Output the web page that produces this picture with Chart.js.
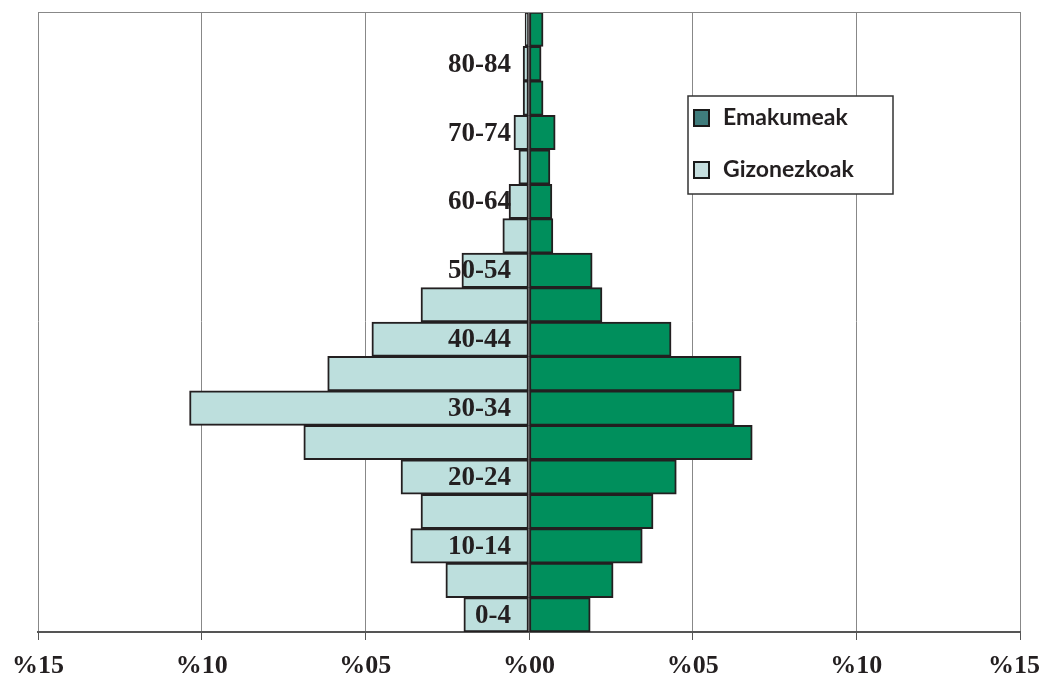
<!DOCTYPE html>
<html>
<head>
<meta charset="utf-8">
<script src="https://cdn.jsdelivr.net/npm/chart.js@4"></script>
<style>
html,body{margin:0;padding:0;background:#fff;}
</style>
</head>
<body>
<canvas id="myChart" width="1042" height="682"></canvas>
<script>
var ageGroups = ["0-4","5-9","10-14","15-19","20-24","25-29","30-34","35-39","40-44","45-49","50-54","55-59","60-64","65-69","70-74","75-79","80-84","85+"];
var emakumeak = [1.87,2.57,3.46,3.79,4.50,6.82,6.27,6.48,4.34,2.23,1.93,0.73,0.70,0.64,0.80,0.43,0.37,0.43];
var gizonezkoak = [-1.99,-2.54,-3.61,-3.30,-3.91,-6.88,-10.37,-6.15,-4.80,-3.30,-2.05,-0.80,-0.61,-0.31,-0.46,-0.18,-0.18,-0.12];
var xTicks = [-15,-10,-5,0,5,10,15];

var serifBold = "bold 27px 'Liberation Serif', serif";

function pctLabel(v) { return "%" + String(Math.abs(v)).padStart(2, "0"); }

// age labels drawn over the bars, every second group
var ageLabels = {
  id: "ageLabels",
  afterDatasetsDraw: function(chart) {
    var ctx = chart.ctx, y = chart.scales.y, x = chart.scales.x;
    ctx.save();
    ctx.font = serifBold;
    ctx.fillStyle = "#231f20";
    ctx.textAlign = "right";
    ctx.textBaseline = "middle";
    ageGroups.forEach(function(g, i) {
      if (i % 2 === 0) ctx.fillText(g, x.getPixelForValue(0) - 18, y.getPixelForValue(i) + 1);
    });
    ctx.restore();
  }
};

// x tick labels, kept inside the canvas at the edges
var xLabels = {
  id: "xLabels",
  afterDraw: function(chart) {
    var ctx = chart.ctx, x = chart.scales.x, W = chart.width;
    ctx.save();
    ctx.font = "bold 26px 'Liberation Serif', serif";
    ctx.fillStyle = "#231f20";
    ctx.textAlign = "center";
    ctx.textBaseline = "middle";
    xTicks.forEach(function(v) {
      var t = pctLabel(v), hw = ctx.measureText(t).width / 2;
      var px = Math.min(Math.max(x.getPixelForValue(v), hw + 2), W - hw - 2);
      ctx.fillText(t, px, chart.chartArea.bottom + 34);
    });
    ctx.restore();
  }
};

// top frame line + boxed legend
var frameAndLegend = {
  id: "frameAndLegend",
  afterDraw: function(chart) {
    var ctx = chart.ctx, a = chart.chartArea;
    ctx.save();
    ctx.strokeStyle = "#888";
    ctx.lineWidth = 1;
    ctx.beginPath();
    ctx.moveTo(a.left, a.top + 0.5);
    ctx.lineTo(a.right, a.top + 0.5);
    ctx.stroke();

    var bx = 688, by = 96, bw = 205, bh = 98;
    ctx.fillStyle = "#fff";
    ctx.fillRect(bx, by, bw, bh);
    ctx.strokeStyle = "#333";
    ctx.lineWidth = 1.5;
    ctx.strokeRect(bx, by, bw, bh);

    var items = [
      {text: chart.data.datasets[1].label, color: "#3f7c7c", y: 118},
      {text: chart.data.datasets[0].label, color: "#c5dede", y: 170}
    ];
    ctx.font = "bold 23px Lato, sans-serif";
    ctx.textBaseline = "middle";
    ctx.textAlign = "left";
    items.forEach(function(it) {
      ctx.fillStyle = it.color;
      ctx.fillRect(694, it.y - 8, 15, 16);
      ctx.strokeStyle = "#1a1a1a";
      ctx.lineWidth = 2;
      ctx.strokeRect(694, it.y - 8, 15, 16);
      ctx.fillStyle = "#231f20";
      ctx.fillText(it.text, 723, it.y);
    });
    ctx.restore();
  }
};

new Chart("myChart", {
  type: "bar",
  data: {
    labels: ageGroups,
    datasets: [{
      label: "Gizonezkoak",
      data: gizonezkoak,
      backgroundColor: "#bddfdd",
      borderColor: "#231f20",
      borderWidth: 2,
      borderSkipped: false,
      barPercentage: 1,
      categoryPercentage: 1
    }, {
      label: "Emakumeak",
      data: emakumeak,
      backgroundColor: "#008f5c",
      borderColor: "#231f20",
      borderWidth: 2,
      borderSkipped: false,
      barPercentage: 1,
      categoryPercentage: 1
    }]
  },
  options: {
    indexAxis: "y",
    responsive: false,
    animation: false,
    layout: {padding: {left: 38, right: 22, top: 12, bottom: 0}},
    plugins: {
      legend: {display: false},
      tooltip: {enabled: false}
    },
    scales: {
      x: {
        stacked: true,
        min: -15,
        max: 15,
        afterBuildTicks: function(s) { s.ticks = xTicks.map(function(v) { return {value: v}; }); },
        afterFit: function(s) { s.paddingLeft = 0; s.paddingRight = 0; s.height = 50; },
        grid: {color: "#888", lineWidth: 1, tickLength: 8, tickColor: "#555"},
        border: {color: "#555", width: 2},
        ticks: {display: false}
      },
      y: {
        stacked: true,
        reverse: true,
        display: false
      }
    }
  },
  plugins: [ageLabels, xLabels, frameAndLegend]
});
</script>
</body>
</html>
